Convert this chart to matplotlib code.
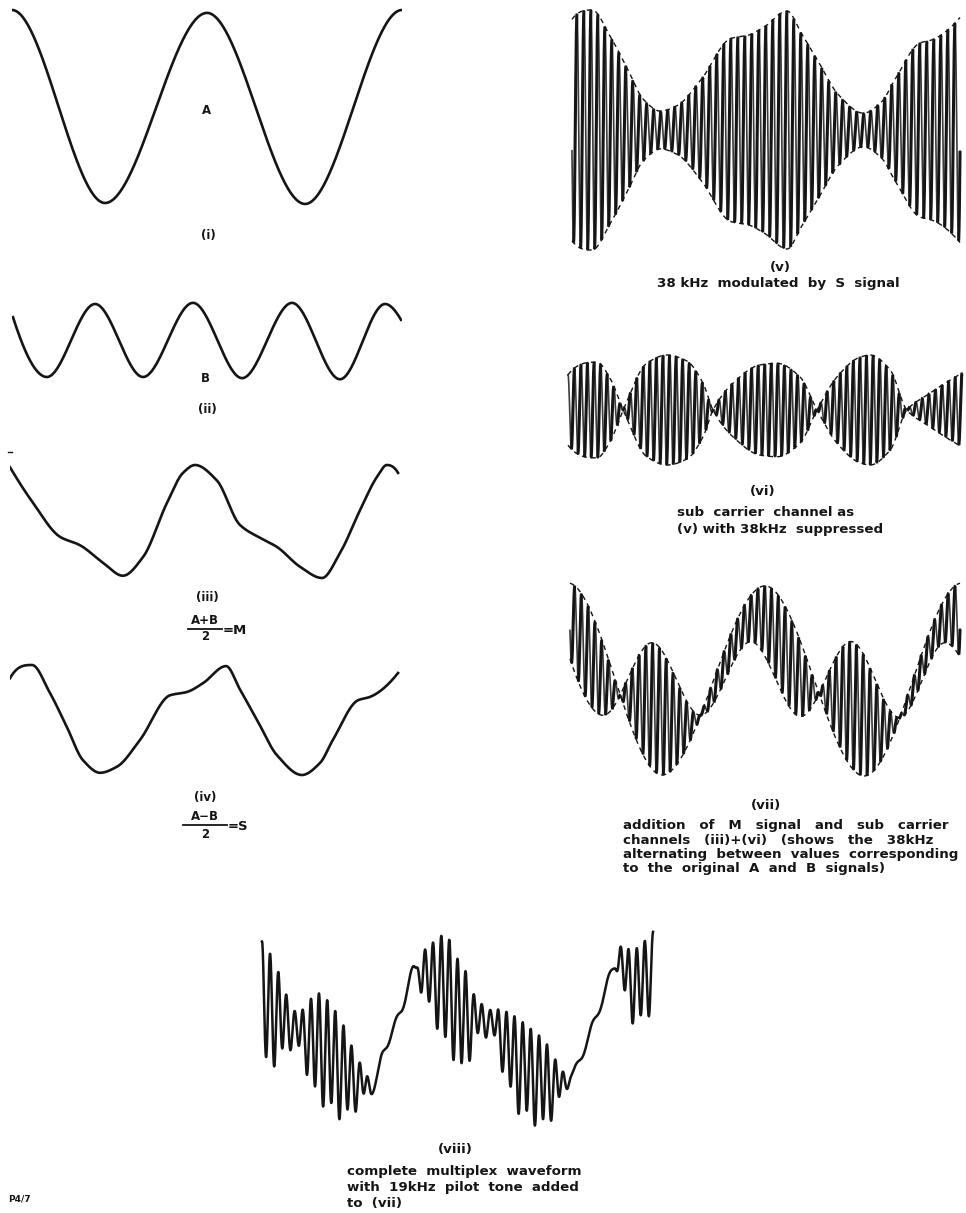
import numpy as np
import matplotlib
matplotlib.use("Agg")
import matplotlib.pyplot as plt
from matplotlib.lines import Line2D

# ---------------- data ----------------
# (i) signal A : time (two A periods = 0..2) and normalised value (turning points)
A_t = [0.0, 0.477, 1.0, 1.503, 2.0]
A_v = [1.0, -1.0, 0.97, -1.01, 1.0]

# (ii) signal B (normalised) and its size relative to A
B_t = [0.005, 0.179, 0.426, 0.672, 0.928, 1.18, 1.436, 1.682, 1.913, 1.995]
B_v = [0.62, -0.97, 0.97, -0.97, 1.0, -1.0, 1.0, -1.03, 0.97, 0.55]
B_scale = 0.39

# (iii) M = (A+B)/2 as drawn
M_t = [0.0, 0.118, 0.256, 0.359, 0.477, 0.579, 0.682, 0.805, 0.887, 0.949, 1.06,
       1.179, 1.282, 1.369, 1.487, 1.600, 1.692, 1.795, 1.882, 1.933, 1.99]
M_v = [0.96, 0.33, -0.27, -0.42, -0.73, -0.96, -0.63, 0.33, 0.86, 1.0, 0.73,
       -0.06, -0.29, -0.45, -0.8, -1.0, -0.56, 0.2, 0.79, 1.0, 0.86]

# (iv) S = (A-B)/2 as drawn
S_t = [0.0, 0.113, 0.205, 0.292, 0.374, 0.462, 0.548, 0.667, 0.821, 0.908, 0.990,
       1.108, 1.18, 1.267, 1.369, 1.497, 1.59, 1.656, 1.785, 1.846, 1.99]
S_v = [0.76, 1.0, 0.49, -0.13, -0.73, -0.96, -0.85, -0.36, 0.45, 0.51, 0.67,
       0.98, 0.55, 0.0, -0.64, -1.0, -0.78, -0.36, 0.36, 0.42, 0.855]

# (v) 38 kHz carrier modulated by S : envelope = offset + depth * S
mod_offset = 0.57
mod_depth = 0.43

# (vi) suppressed-carrier envelope (signed)
D_t = [0.0, 0.147, 0.213, 0.28, 0.40, 0.503, 0.604, 0.685, 0.736, 0.838, 0.975,
       1.061, 1.178, 1.264, 1.365, 1.482, 1.533, 1.635, 1.72, 1.822, 2.0]
D_v = [0.64, 0.87, 0.58, 0.0, -0.85, -1.0, -0.89, -0.49, 0.0, 0.49, 0.82,
       0.85, 0.6, 0.0, -0.6, -0.96, -1.0, -0.73, 0.0, 0.27, 0.67]

# (viii) complete multiplex waveform: centre line and 38 kHz half-amplitude
C8_t = [0.0, 0.17, 0.33, 0.47, 0.57, 0.62, 0.71, 0.78, 0.87, 0.95, 1.03, 1.15,
        1.32, 1.5, 1.58, 1.66, 1.74, 1.82, 1.9, 2.0]
C8_v = [0.25, -0.04, -0.28, -0.57, -0.64, -0.29, 0.14, 0.57, 0.49, 0.35, 0.07,
        0.05, -0.42, -0.62, -0.54, -0.18, 0.26, 0.66, 0.42, 0.62]
H8_t = [0.0, 0.05, 0.17, 0.3, 0.4, 0.47, 0.53, 0.57, 0.62, 0.78, 0.82, 0.87,
        0.95, 1.03, 1.1, 1.17, 1.23, 1.32, 1.43, 1.5, 1.56, 1.6, 1.8, 1.84,
        1.9, 1.97, 2.0]
H8_v = [0.62, 0.55, 0.18, 0.55, 0.5, 0.3, 0.12, 0.02, 0.0, 0.0, 0.2, 0.36,
        0.56, 0.52, 0.2, 0.12, 0.3, 0.47, 0.45, 0.26, 0.05, 0.0, 0.0, 0.2,
        0.36, 0.4, 0.35]
pilot_amp = 0.05

# number of carrier cycles visible across each panel
cycles_v, cycles_vi, cycles_vii, cycles_viii = 56, 60, 58, 48

# captions
cap_v = "38 kHz  modulated  by  S  signal"
cap_vi = ["sub  carrier  channel as", "(v) with 38kHz  suppressed"]
cap_vii = ["addition   of   M   signal   and   sub   carrier",
           "channels   (iii)+(vi)   (shows   the   38kHz",
           "alternating  between  values  corresponding",
           "to  the  original  A  and  B  signals)"]
cap_viii = ["complete  multiplex  waveform",
            "with  19kHz  pilot  tone  added",
            "to  (vii)"]

# ---------------- helpers ----------------
def pchip(xk, yk, x, flat=False):
    xk = np.asarray(xk, float); yk = np.asarray(yk, float)
    h = np.diff(xk); d = np.diff(yk) / h
    m = np.zeros_like(yk)
    for i in range(1, len(xk) - 1):
        if d[i - 1] * d[i] > 0:
            w1 = 2 * h[i] + h[i - 1]; w2 = h[i] + 2 * h[i - 1]
            m[i] = (w1 + w2) / (w1 / d[i - 1] + w2 / d[i])
    def edge(h0, h1, d0, d1):
        e = ((2 * h0 + h1) * d0 - h0 * d1) / (h0 + h1)
        if np.sign(e) != np.sign(d0):
            e = 0.0
        elif np.sign(d0) != np.sign(d1) and abs(e) > abs(3 * d0):
            e = 3 * d0
        return e
    if not flat:
        m[0] = edge(h[0], h[1], d[0], d[1])
        m[-1] = edge(h[-1], h[-2], d[-1], d[-2])
    x = np.asarray(x, float)
    i = np.clip(np.searchsorted(xk, x) - 1, 0, len(xk) - 2)
    s = (x - xk[i]) / h[i]
    h00 = 2 * s**3 - 3 * s**2 + 1; h10 = s**3 - 2 * s**2 + s
    h01 = -2 * s**3 + 3 * s**2;    h11 = s**3 - s**2
    return h00 * yk[i] + h10 * h[i] * m[i] + h01 * yk[i + 1] + h11 * h[i] * m[i + 1]

W, H, DPI = 966, 1213, 100
fig = plt.figure(figsize=(W / DPI, H / DPI), dpi=DPI)
fig.patch.set_facecolor("white")
INK = "#151515"
FONT = "DejaVu Sans"
CAP = 9.6

def panel(x0, x1, yc, ppu, half_px=135):
    ax = fig.add_axes([x0 / W, 1 - (yc + half_px) / H, (x1 - x0) / W, 2 * half_px / H])
    ax.set_xlim(0, 2)
    ax.set_ylim(-half_px / ppu, half_px / ppu)
    ax.axis("off")
    return ax

def txt(x, y, s, size=8.5, ha="center"):
    fig.text(x / W, 1 - y / H, s, ha=ha, va="center", fontsize=size,
             fontweight="bold", family=FONT, color=INK)

def bar(x0, x1, y, lw=1.3):
    fig.add_artist(Line2D([x0 / W, x1 / W], [1 - y / H, 1 - y / H],
                          transform=fig.transFigure, color=INK, lw=lw))

def carrier(ax, t, y, lw_dark=2.2):
    dy = np.gradient(y)
    ax.plot(t, y, color="#3c3c3c", lw=1.2, clip_on=False)
    ax.plot(t, np.where(dy >= 0, y, np.nan), color=INK, lw=lw_dark,
            clip_on=False, solid_capstyle="butt")

def envelope(ax, t, y):
    ax.plot(t, y, color=INK, lw=1.0, ls=(0, (3.5, 3)), clip_on=False)

# ---------------- (i) A ----------------
ax = panel(12, 402, 106.5, 96.5)
tt = np.linspace(A_t[0], A_t[-1], 1200)
ax.plot(tt, pchip(A_t, A_v, tt, flat=True), color=INK, lw=1.9)
txt(207, 110, "A", 8.5)
txt(208, 236, "(i)", 8.5)

# ---------------- (ii) B ----------------
ax = panel(12, 402, 340.5, 96.5)
tt = np.linspace(B_t[0], B_t[-1], 1200)
ax.plot(tt, B_scale * pchip(B_t, B_v, tt), color=INK, lw=1.9)
txt(205, 378, "B", 8.5)
txt(207, 409, "(ii)", 8.5)

# ---------------- (iii) M ----------------
ax = panel(10, 400, 521.5, 56.5)
tt = np.linspace(M_t[0], M_t[-1], 1200)
ax.plot(tt, pchip(M_t, M_v, tt), color=INK, lw=1.9)
txt(207, 597, "(iii)", 8.5)
txt(205, 621, "A+B", 8.5)
bar(188, 222, 629)
txt(205, 637, "2", 8.5)
txt(223, 630, "=M", 9.5, ha="left")

# ---------------- (iv) S ----------------
ax = panel(10, 400, 720, 55)
tt = np.linspace(S_t[0], S_t[-1], 1200)
ax.plot(tt, pchip(S_t, S_v, tt), color=INK, lw=1.9)
txt(205, 797, "(iv)", 8.5)
txt(205, 817, "A\u2212B", 8.5)
bar(183, 227, 825)
txt(205, 834, "2", 8.5)
txt(228, 826, "=S", 9.5, ha="left")

# ---------------- (v) modulated carrier ----------------
ax = panel(570, 962, 130, 120)
tt = np.linspace(0.01, 1.99, 9000)
env = mod_offset + mod_depth * pchip(S_t, S_v, tt)
carrier(ax, tt, env * np.cos(2 * np.pi * cycles_v * tt / 2))
envelope(ax, tt, env); envelope(ax, tt, -env)
txt(780, 267, "(v)", CAP)
txt(778, 283, cap_v, CAP)

# ---------------- (vi) suppressed carrier ----------------
ax = panel(568, 962, 410, 55)
tt = np.linspace(0.0, 2.0, 9000)
dd = pchip(D_t, D_v, tt)
carrier(ax, tt, dd * np.cos(2 * np.pi * cycles_vi * tt / 2))
envelope(ax, tt, dd); envelope(ax, tt, -dd)
txt(763, 492, "(vi)", CAP)
txt(677, 512, cap_vi[0], CAP, ha="left")
txt(677, 530, cap_vi[1], CAP, ha="left")

# ---------------- (vii) M + sub carrier ----------------
ax = panel(568, 962, 679, 96)
tt = np.linspace(0.01, 1.99, 9000)
ea = pchip(A_t, A_v, tt, flat=True)
eb = B_scale * pchip(B_t, B_v, tt)
mid = (ea + eb) / 2
half = (ea - eb) / 2
carrier(ax, tt, mid + half * np.cos(2 * np.pi * cycles_vii * tt / 2))
envelope(ax, tt, ea); envelope(ax, tt, eb)
txt(766, 806, "(vii)", CAP)
for k, s in enumerate(cap_vii):
    txt(623, 826 + 14.2 * k, s, CAP, ha="left")

# ---------------- (viii) complete multiplex ----------------
ax = panel(262, 653, 1025, 96)
tt = np.linspace(0.0, 2.0, 9000)
ph = 2 * np.pi * cycles_viii * tt / 2
y8 = (pchip(C8_t, C8_v, tt) + pchip(H8_t, H8_v, tt) * np.cos(ph)
      + pilot_amp * np.sin(ph / 2))
ax.plot(tt, y8, color=INK, lw=1.8, clip_on=False)
txt(455, 1150, "(viii)", CAP)
for k, s in enumerate(cap_viii):
    txt(347, 1171 + 16 * k, s, CAP, ha="left")

txt(8, 1199, "P4/7", 6.5, ha="left")
bar(8, 12, 452, lw=1.0)

fig.savefig("out.png", dpi=DPI, facecolor="white")
